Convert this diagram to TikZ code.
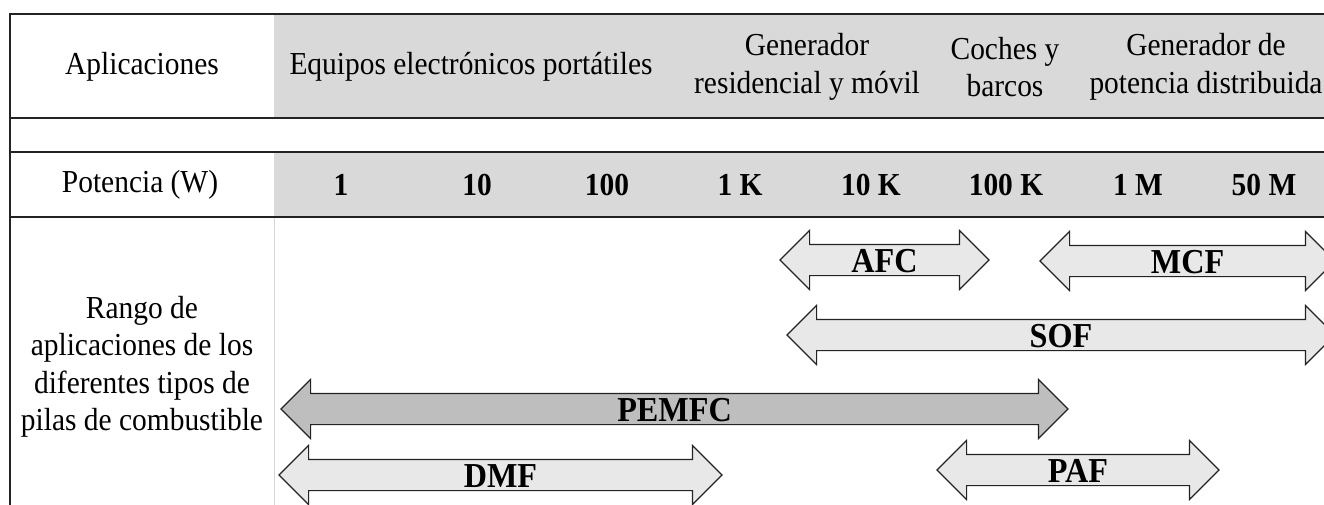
\documentclass[tikz,border=0pt]{standalone}
\usepackage{fontspec}
\setmainfont{Liberation Serif}[FakeStretch=0.92]
\usetikzlibrary{shapes.arrows}
\definecolor{headgray}{RGB}{217,217,217}
\definecolor{arrowgray}{RGB}{232,232,232}
\definecolor{pemgray}{RGB}{190,190,190}
\definecolor{rulegray}{RGB}{35,35,35}
\definecolor{colgray}{RGB}{215,215,215}

\begin{document}
\begin{tikzpicture}[x=1pt,y=-1pt,
  celltext/.style={font=\fontsize{32}{37.5}\selectfont, align=center, inner sep=0pt},
  powertext/.style={font=\fontsize{32}{35}\selectfont\bfseries, inner sep=0pt},
  rangearrow/.style={shape=double arrow, draw=rulegray, line width=1.1pt, fill=arrowgray,
    double arrow head extend=14pt, double arrow tip angle=90,
    font=\fontsize{35}{38}\selectfont\bfseries, text height=24pt, text depth=0pt,
    inner ysep=3pt, inner xsep=0pt}]
  \useasboundingbox (0,0) rectangle (1324,505);
  \clip (0,0) rectangle (1324,505);

  % Gray header cells
  \fill[headgray] (274,14) rectangle (1324,118);
  \fill[headgray] (274,152) rectangle (1324,217);

  % Table rules
  \draw[colgray, line width=1pt] (274,217) -- (274,505);
  \draw[rulegray, line width=2.2pt] (10,14) -- (1324,14);
  \draw[rulegray, line width=2.2pt] (10,118) -- (1324,118);
  \draw[rulegray, line width=2.2pt] (10,152) -- (1324,152);
  \draw[rulegray, line width=2.2pt] (10,217) -- (1324,217);
  \draw[rulegray, line width=2.2pt] (10,13) -- (10,505);

  % Applications row
  \node[celltext] (apl) at (142,67) {Aplicaciones};
  \node[celltext] (portable) at (471,67) {Equipos electrónicos portátiles};
  \node[celltext] (resid) at (807,67) {Generador\\residencial y móvil};
  \node[celltext] (cars) at (1005,67) {Coches y\\barcos};
  \node[celltext] (distrib) at (1206,67) {Generador de\\potencia distribuida};

  % Power row
  \node[celltext] (pot) at (140,185) {Potencia (W)};
  \node[powertext] (p1) at (341,185) {1};
  \node[powertext] (p10) at (477,185) {10};
  \node[powertext] (p100) at (607,185) {100};
  \node[powertext] (p1k) at (740,185) {1 K};
  \node[powertext] (p10k) at (871,185) {10 K};
  \node[powertext] (p100k) at (1006,185) {100 K};
  \node[powertext] (p1m) at (1138,185) {1 M};
  \node[powertext] (p50m) at (1264,185) {50 M};

  % Range row
  \node[celltext] (rango) at (142,367) {Rango de\\aplicaciones de los\\diferentes tipos de\\pilas de combustible};

  % Fuel cell ranges
  \node[rangearrow, minimum height=209pt] (afc) at (884.5,260) {AFC};
  \node[rangearrow, minimum height=295pt] (mcf) at (1187.5,261) {MCF};
  \node[rangearrow, minimum height=548pt] (sof) at (1061,335) {SOF};
  \node[rangearrow, fill=pemgray, minimum height=787pt] (pemfc) at (674.5,409) {PEMFC};
  \node[rangearrow, minimum height=443pt] (dmf) at (500.5,475) {DMF};
  \node[rangearrow, minimum height=282pt] (paf) at (1078,470) {PAF};
\end{tikzpicture}
\end{document}
